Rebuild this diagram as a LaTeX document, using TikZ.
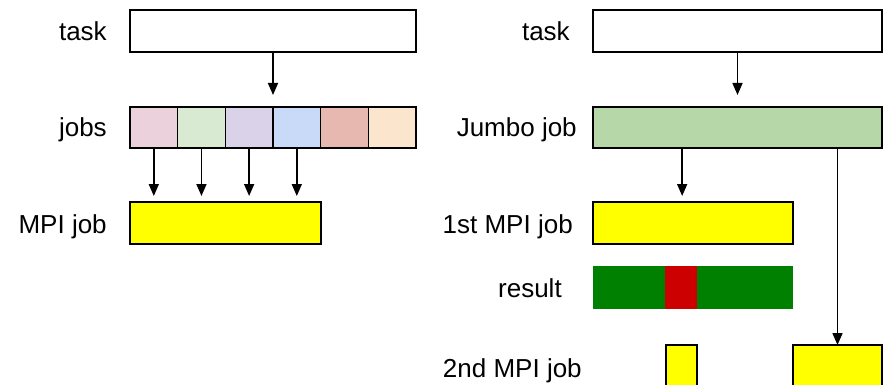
\documentclass[tikz,border=0pt]{standalone}
\usepackage{fontspec}
\setmainfont{Liberation Sans}
\usepackage{tikz}
\usetikzlibrary{calc, positioning, arrows.meta}

\definecolor{jobpink}{HTML}{EAD1DC}
\definecolor{jobgreen}{HTML}{D9EAD3}
\definecolor{jobpurple}{HTML}{D9D2E9}
\definecolor{jobblue}{HTML}{C9DAF8}
\definecolor{jobred}{HTML}{E6B8AF}
\definecolor{joborange}{HTML}{FCE5CD}
\definecolor{jumbogreen}{HTML}{B6D7A8}
\definecolor{mpiyellow}{HTML}{FFFF00}
\definecolor{okgreen}{HTML}{008000}
\definecolor{failred}{HTML}{CC0000}

\begin{document}
\begin{tikzpicture}[x=0.75pt, y=-0.75pt,
    box/.style={rectangle, draw, line width=1.2pt, outer sep=0pt, inner sep=0pt},
    cell/.style={box, minimum width=35.75pt, minimum height=30.75pt},
    part/.style={rectangle, outer sep=0pt, inner sep=0pt, minimum height=32.25pt},
    lbl/.style={anchor=base east, inner sep=0pt, font=\fontsize{19.5}{23}\selectfont},
    arr/.style={-{Triangle[length=9pt, width=7.5pt]}, line width=1.2pt}]
        \clip (0,0) rectangle (885,385);
        \fill[white] (0,0) rectangle (885,385);

        % Left: task split into jobs
        \node (task1) [box, fill=white, minimum width=214.5pt, minimum height=31.5pt] at (273,31) {};
        \node (c1) [cell, fill=jobpink] at (153.8,127.5) {};
        \node (c2) [cell, fill=jobgreen, right=0pt of c1] {};
        \node (c3) [cell, fill=jobpurple, right=0pt of c2] {};
        \node (c4) [cell, fill=jobblue, right=0pt of c3] {};
        \node (c5) [cell, fill=jobred, right=0pt of c4] {};
        \node (c6) [cell, fill=joborange, right=0pt of c5] {};
        \node (mpi) [box, fill=mpiyellow, minimum width=143.25pt, minimum height=31.5pt] at (225.5,223) {};

        \node [lbl] at (107,41) {task};
        \node [lbl] at (107,137) {jobs};
        \node [lbl] at (107,233) {MPI job};

        \draw[arr, shorten >=9pt] (task1.south) -- (task1.south |- c1.north);
        \draw[arr, shorten >=4.5pt] (c1.south) -- (c1.south |- mpi.north);
        \draw[arr, shorten >=4.5pt] (c2.south) -- (c2.south |- mpi.north);
        \draw[arr, shorten >=4.5pt] (c3.south) -- (c3.south |- mpi.north);
        \draw[arr, shorten >=4.5pt] (c4.south) -- (c4.south |- mpi.north);

        % Right: task as one jumbo job
        \node (task2) [box, fill=white, minimum width=216.75pt, minimum height=31.5pt] at (737.5,31) {};
        \node (jumbo) [box, fill=jumbogreen, minimum width=216.75pt, minimum height=30.75pt, below=41.25pt of task2] {};
        \node (mpi1) [box, fill=mpiyellow, minimum width=150pt, minimum height=31.5pt] at (693,223) {};

        \node (ok1) [part, fill=okgreen, minimum width=54pt] at (629,287.5) {};
        \node (fail) [part, fill=failred, minimum width=24pt, right=0pt of ok1] {};
        \node (ok2) [part, fill=okgreen, minimum width=72pt, right=0pt of fail] {};

        \node (mpi2a) [box, fill=mpiyellow, minimum width=23.25pt, minimum height=41.25pt] at (681.5,372.5) {};
        \node (mpi2b) [box, fill=mpiyellow, minimum width=66.75pt, minimum height=41.25pt] at (837.5,372.5) {};

        \node [lbl] at (570,41) {task};
        \node [lbl] at (577,137) {Jumbo job};
        \node [lbl] at (573,233) {1st MPI job};
        \node [lbl] at (562,297) {result};
        \node [lbl] at (582,377) {2nd MPI job};

        \coordinate (split) at ([xshift=-41.5pt]jumbo.south);
        \draw[arr, shorten >=9pt] (task2.south) -- (jumbo.north);
        \draw[arr, shorten >=4.5pt] (split) -- (split |- mpi1.north);
        \draw[arr] (jumbo.south -| mpi2b.north) -- (mpi2b.north);
    \end{tikzpicture}
\end{document}
